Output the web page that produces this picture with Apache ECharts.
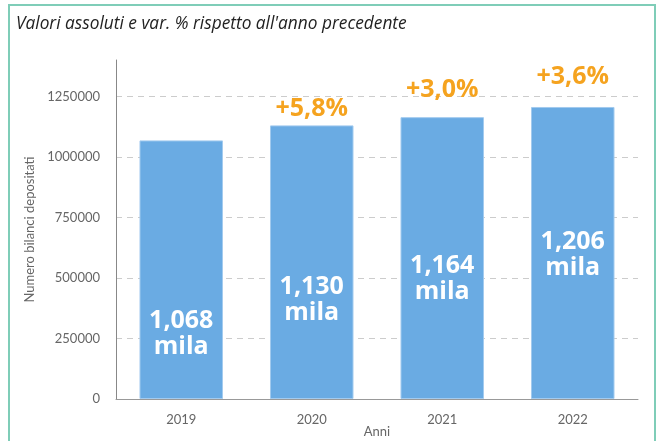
<!DOCTYPE html>
<html>
<head>
<meta charset="utf-8">
<script src="https://cdn.jsdelivr.net/npm/echarts@6/dist/echarts.min.js"></script>
<style>
    html, body { margin: 0; padding: 0; background: #fff; }
    #chart { width: 662px; height: 441px; }
</style>
</head>
<body>
<div id="chart"></div>
<script>
// dati
var anni = ['2019', '2020', '2021', '2022'];
var bilanci = [1068000, 1130000, 1164000, 1206000];
var etichette = ['1,068\nmila', '1,130\nmila', '1,164\nmila', '1,206\nmila'];
var variazioni = ['', '+5,8%', '+3,0%', '+3,6%'];

// spostamento delle etichette (solo stile)
var offsetInterno = [64, 38, 21, 2];
var distanzaSopra = [4, 4, 14, 17];

var chart = echarts.init(document.getElementById('chart'));

var options = {
    animation: false,
    title: {
        text: "Valori assoluti e var. % rispetto all'anno precedente",
        left: 11,
        top: 11,
        textStyle: {
            fontFamily: 'Open Sans',
            fontStyle: 'italic',
            fontWeight: 'normal',
            fontSize: 17.3,
            color: '#222'
        }
    },
    graphic: [{
        type: 'rect',
        shape: {x: 9, y: 5, width: 646, height: 470},
        style: {fill: 'none', stroke: '#7fcdb8', lineWidth: 2},
        silent: true
    }],
    grid: {left: 116, right: 24, top: 60, bottom: 42, outerBoundsMode: 'none'},
    xAxis: {
        type: 'category',
        data: anni,
        name: 'Anni',
        nameLocation: 'middle',
        nameGap: 26,
        nameMoveOverlap: false,
        nameTextStyle: {fontFamily: 'Lato', fontSize: 13, color: '#666'},
        axisLine: {lineStyle: {color: '#999', width: 1}},
        axisTick: {show: false},
        axisLabel: {fontFamily: 'Lato', fontSize: 13, color: '#666', margin: 14}
    },
    yAxis: {
        type: 'value',
        min: 0,
        max: 1400000,
        interval: 250000,
        name: 'Numero bilanci depositati',
        nameLocation: 'middle',
        nameGap: 80,
        nameMoveOverlap: false,
        nameTextStyle: {fontFamily: 'Lato', fontSize: 13, color: '#666'},
        axisLine: {show: true, lineStyle: {color: '#888', width: 1}},
        axisTick: {show: false},
        axisLabel: {
            fontFamily: 'Lato', fontSize: 13, color: '#666', margin: 16,
            showMaxLabel: false,
            formatter: function (v) { return String(v); }
        },
        splitLine: {
            show: true,
            showMaxLine: false,
            lineStyle: {color: '#ccc', type: [6, 5], width: 1}
        }
    },
    series: [
        {
            type: 'bar',
            barWidth: '64%',
            data: bilanci.map(function (v, i) {
                return {
                    value: v,
                    label: {offset: [0, offsetInterno[i]]}
                };
            }),
            itemStyle: {color: '#6aabe3', borderColor: '#a3cbef', borderWidth: 1},
            label: {
                show: true,
                position: 'inside',
                formatter: function (p) { return etichette[p.dataIndex]; },
                fontFamily: 'Open Sans',
                fontWeight: 'bold',
                fontSize: 25,
                lineHeight: 26,
                color: '#fff'
            },
            silent: true
        },
        {
            type: 'scatter',
            data: bilanci.map(function (v, i) {
                return {
                    value: v,
                    label: {distance: distanzaSopra[i]}
                };
            }),
            symbolSize: 1,
            itemStyle: {color: 'rgba(0,0,0,0)', opacity: 1},
            label: {
                show: true,
                position: 'top',
                formatter: function (p) { return variazioni[p.dataIndex]; },
                fontFamily: 'Open Sans',
                fontWeight: 'bold',
                fontSize: 25,
                color: '#f5a31f',
                opacity: 1
            },
            silent: true
        }
    ]
};

chart.setOption(options);
</script>
</body>
</html>
